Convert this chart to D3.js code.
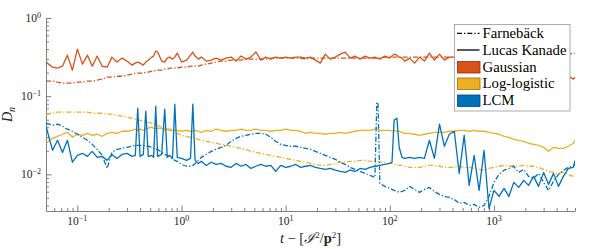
<!DOCTYPE html>
<html>
<head>
<meta charset="utf-8">
<script src="https://cdn.jsdelivr.net/npm/d3@7"></script>
<style>
body { margin: 0; background: #fff; }
</style>
</head>
<body>
<svg id="chart" width="598" height="249" font-family="'Liberation Serif', 'DejaVu Serif', serif"></svg>
<script>
// time axis, t - [I^2/p^2]
var tValues = [
  0.05, 0.0578, 0.0645, 0.072, 0.0803, 0.0896, 0.1, 0.112, 0.125, 0.139,
  0.155, 0.173, 0.193, 0.215, 0.24, 0.268, 0.3, 0.334, 0.36, 0.38,
  0.40, 0.43, 0.454, 0.48, 0.518, 0.54, 0.566, 0.59, 0.645, 0.69,
  0.73, 0.77, 0.82, 0.862, 0.91, 1, 1.12, 1.22, 1.284, 1.35,
  1.45, 1.55, 1.73, 1.93, 2.15, 2.4, 2.68, 3, 3.34, 3.73,
  4.16, 4.64, 5.18, 5.78, 6.45, 7.2, 8.03, 8.96, 10, 11.2,
  12.5, 13.9, 15.5, 17.3, 19.3, 21.5, 24, 26.8, 30, 33.4,
  37.3, 41.6, 46.4, 51.8, 57.8, 64.5, 72, 75, 77, 80.3,
  89.6, 100, 105, 110, 117, 123, 131, 139, 155, 173,
  193, 215, 240, 268, 300, 334, 373, 416, 464, 518,
  578, 645, 720, 803, 896, 1000, 1120, 1250, 1390, 1550,
  1730, 1930, 2150, 2400, 2680, 3000, 3340, 3730, 4160, 4640,
  5180, 5780, 6000
];

// Gaussian
var gaussFarneback = [
  0.156, 0.156, 0.151, 0.147, 0.147, 0.147, 0.151, 0.151, 0.156, 0.156,
  0.160, 0.165, 0.175, 0.175, 0.180, 0.180, 0.186, 0.191, 0.197, 0.197,
  0.197, 0.197, 0.203, 0.203, 0.209, 0.209, 0.215, 0.215, 0.215, 0.222,
  0.222, 0.229, 0.229, 0.229, 0.229, 0.235, 0.235, 0.242, 0.242, 0.242,
  0.242, 0.250, 0.257, 0.265, 0.273, 0.281, 0.281, 0.289, 0.289, 0.289,
  0.298, 0.298, 0.298, 0.298, 0.298, 0.307, 0.307, 0.307, 0.307, 0.307,
  0.307, 0.307, 0.298, 0.307, 0.307, 0.307, 0.307, 0.307, 0.307, 0.307,
  0.307, 0.307, 0.307, 0.307, 0.307, 0.307, 0.307, 0.307, 0.307, 0.307,
  0.316, 0.316, 0.316, 0.316, 0.316, 0.316, 0.316, 0.316, 0.316, 0.316,
  0.316, 0.316, 0.316, 0.316, 0.316, 0.316, 0.316, 0.316, 0.316, 0.316,
  0.316, 0.316, 0.316, 0.316, 0.316, 0.316, 0.316, 0.316, 0.316, 0.316,
  0.326, 0.326, 0.326, 0.326, 0.326, 0.335, 0.335, 0.335, 0.335, 0.345,
  0.345, 0.356, 0.356
];
var gaussLucasKanade = [
  0.273, 0.235, 0.229, 0.242, 0.335, 0.215, 0.400, 0.257, 0.335, 0.242,
  0.326, 0.242, 0.235, 0.316, 0.273, 0.307, 0.281, 0.250, 0.265, 0.273,
  0.265, 0.250, 0.273, 0.289, 0.316, 0.326, 0.378, 0.367, 0.281, 0.273,
  0.307, 0.316, 0.298, 0.316, 0.356, 0.273, 0.289, 0.335, 0.367, 0.326,
  0.298, 0.316, 0.281, 0.289, 0.307, 0.289, 0.307, 0.316, 0.281, 0.326,
  0.298, 0.316, 0.367, 0.289, 0.316, 0.298, 0.316, 0.307, 0.316, 0.307,
  0.316, 0.316, 0.307, 0.316, 0.289, 0.265, 0.345, 0.298, 0.316, 0.345,
  0.367, 0.307, 0.326, 0.298, 0.326, 0.307, 0.316, 0.307, 0.307, 0.298,
  0.326, 0.307, 0.326, 0.345, 0.335, 0.316, 0.307, 0.281, 0.307, 0.265,
  0.316, 0.281, 0.356, 0.289, 0.345, 0.289, 0.316, 0.316, 0.307, 0.326,
  0.307, 0.316, 0.298, 0.326, 0.307, 0.316, 0.298, 0.316, 0.307, 0.289,
  0.307, 0.273, 0.257, 0.242, 0.229, 0.215, 0.203, 0.191, 0.186, 0.175,
  0.180, 0.165, 0.175
];

// Log-logistic
var logLogFarneback = [
  0.0588, 0.0605, 0.0624, 0.0624, 0.0624, 0.0624, 0.0624, 0.0624, 0.0624, 0.0605,
  0.0605, 0.0605, 0.0588, 0.0588, 0.0571, 0.0554, 0.0538, 0.0522, 0.0507, 0.0507,
  0.0492, 0.0478, 0.0478, 0.0464, 0.0451, 0.0438, 0.0425, 0.0425, 0.0401, 0.0389,
  0.0378, 0.0366, 0.0356, 0.0345, 0.0335, 0.0316, 0.0307, 0.0298, 0.0298, 0.0289,
  0.0281, 0.0273, 0.0265, 0.0257, 0.0250, 0.0242, 0.0235, 0.0229, 0.0222, 0.0215,
  0.0209, 0.0197, 0.0191, 0.0186, 0.0180, 0.0175, 0.0170, 0.0165, 0.0160, 0.0156,
  0.0151, 0.0147, 0.0143, 0.0138, 0.0134, 0.0130, 0.0130, 0.0134, 0.0138, 0.0143,
  0.0143, 0.0147, 0.0147, 0.0151, 0.0151, 0.0147, 0.0147, 0.0147, 0.0147, 0.0143,
  0.0143, 0.0138, 0.0138, 0.0134, 0.0134, 0.0130, 0.0130, 0.0127, 0.0123, 0.0123,
  0.0123, 0.0127, 0.0130, 0.0130, 0.0127, 0.0123, 0.0123, 0.0123, 0.0127, 0.0123,
  0.0123, 0.0119, 0.0116, 0.0113, 0.0119, 0.0123, 0.0127, 0.0130, 0.0127, 0.0130,
  0.0127, 0.0130, 0.0127, 0.0127, 0.0123, 0.0116, 0.0109, 0.0106, 0.0103, 0.0106,
  0.0100, 0.00943, 0.00916
];
var logLogLucasKanade = [
  0.0250, 0.0289, 0.0307, 0.0326, 0.0345, 0.0298, 0.0326, 0.0316, 0.0335, 0.0316,
  0.0326, 0.0307, 0.0335, 0.0345, 0.0335, 0.0356, 0.0356, 0.0366, 0.0378, 0.0366,
  0.0378, 0.0366, 0.0378, 0.0389, 0.0401, 0.0389, 0.0378, 0.0389, 0.0389, 0.0366,
  0.0378, 0.0378, 0.0366, 0.0366, 0.0366, 0.0356, 0.0366, 0.0356, 0.0356, 0.0366,
  0.0356, 0.0345, 0.0366, 0.0356, 0.0378, 0.0366, 0.0356, 0.0366, 0.0366, 0.0378,
  0.0366, 0.0366, 0.0378, 0.0366, 0.0366, 0.0356, 0.0366, 0.0366, 0.0378, 0.0366,
  0.0366, 0.0356, 0.0335, 0.0345, 0.0335, 0.0335, 0.0326, 0.0335, 0.0335, 0.0345,
  0.0335, 0.0345, 0.0356, 0.0366, 0.0366, 0.0366, 0.0378, 0.0378, 0.0378, 0.0366,
  0.0366, 0.0366, 0.0356, 0.0366, 0.0356, 0.0356, 0.0345, 0.0335, 0.0335, 0.0326,
  0.0316, 0.0326, 0.0335, 0.0345, 0.0345, 0.0345, 0.0356, 0.0356, 0.0366, 0.0366,
  0.0356, 0.0366, 0.0356, 0.0356, 0.0345, 0.0335, 0.0326, 0.0307, 0.0298, 0.0281,
  0.0273, 0.0265, 0.0250, 0.0242, 0.0235, 0.0222, 0.0197, 0.0222, 0.0215, 0.0215,
  0.0229, 0.0250, 0.0273
];

// LCM
var lcmFarneback = [
  0.0451, 0.0425, 0.0438, 0.0413, 0.0378, 0.0356, 0.0326, 0.0298, 0.0273, 0.0242,
  0.0209, 0.0175, 0.0119, 0.0191, 0.0209, 0.0215, 0.0222, 0.0229, 0.0235, 0.0235,
  0.0235, 0.0235, 0.0229, 0.0229, 0.0222, 0.0215, 0.0209, 0.0209, 0.0191, 0.0180,
  0.0175, 0.0165, 0.0160, 0.0151, 0.0147, 0.0134, 0.0127, 0.0127, 0.0130, 0.0138,
  0.0151, 0.0165, 0.0180, 0.0197, 0.0209, 0.0222, 0.0235, 0.0265, 0.0289, 0.0307,
  0.0316, 0.0326, 0.0335, 0.0335, 0.0326, 0.0298, 0.0265, 0.0242, 0.0235, 0.0229,
  0.0229, 0.0222, 0.0215, 0.0209, 0.0197, 0.0186, 0.0175, 0.0165, 0.0156, 0.0143,
  0.0134, 0.0123, 0.0116, 0.0109, 0.0103, 0.00971, 0.00916, 0.0838, 0.0814, 0.00767,
  0.00702, 0.00661, 0.00642, 0.00624, 0.00605, 0.00588, 0.00605, 0.00624, 0.00702, 0.00642,
  0.00588, 0.00642, 0.00681, 0.00605, 0.00554, 0.00522, 0.00507, 0.00478, 0.00425, 0.00438,
  0.00401, 0.00413, 0.00378, 0.00401, 0.00522, 0.00790, 0.0100, 0.0113, 0.0119, 0.0127,
  0.0106, 0.0116, 0.00943, 0.00889, 0.0103, 0.00790, 0.00624, 0.00814, 0.0100, 0.0113,
  0.0123, 0.0127, 0.0134
];
var lcmLucasKanade = [
  0.0413, 0.0203, 0.0273, 0.0191, 0.0273, 0.0143, 0.0175, 0.0186, 0.0170, 0.0197,
  0.0165, 0.0170, 0.0151, 0.0180, 0.0160, 0.0180, 0.0186, 0.0170, 0.0175, 0.0702,
  0.0170, 0.0180, 0.0642, 0.0170, 0.0175, 0.0165, 0.0745, 0.0170, 0.0180, 0.0681,
  0.0165, 0.0175, 0.0160, 0.0790, 0.0165, 0.0160, 0.0151, 0.0160, 0.0790, 0.0151,
  0.0138, 0.0147, 0.0130, 0.0143, 0.0134, 0.0138, 0.0127, 0.0123, 0.0138, 0.0127,
  0.0134, 0.0119, 0.0127, 0.0134, 0.0127, 0.0130, 0.0109, 0.0130, 0.0123, 0.0127,
  0.0134, 0.0123, 0.0127, 0.0130, 0.0123, 0.0119, 0.0116, 0.0119, 0.0113, 0.0109,
  0.0106, 0.0113, 0.0109, 0.0119, 0.0116, 0.0123, 0.0127, 0.0127, 0.0130, 0.0130,
  0.0134, 0.0138, 0.0143, 0.0492, 0.0522, 0.0222, 0.0165, 0.0160, 0.0165, 0.0160,
  0.0165, 0.0160, 0.0273, 0.0160, 0.0438, 0.0229, 0.0326, 0.0356, 0.0103, 0.0316,
  0.00723, 0.0175, 0.00624, 0.0203, 0.00366, 0.00624, 0.00522, 0.00661, 0.00522, 0.00790,
  0.00681, 0.00838, 0.00723, 0.00943, 0.00702, 0.0106, 0.00745, 0.0103, 0.00702, 0.00943,
  0.0119, 0.0123, 0.0151
];

var modelNames = ["Gaussian", "Log-logistic", "LCM"];
var modelColors = ["#D95319", "#EDB120", "#0072BD"];
var methodNames = ["Farnebäck", "Lucas Kanade"];

var xMajorTicks = [0.1, 1, 10, 100, 1000];
var xTickExponents = ["−1", "0", "1", "2", "3"];
var yMajorTicks = [1, 0.1, 0.01];
var yTickExponents = ["0", "−1", "−2"];

var W = 598, H = 249;
var margin = {left: 46, right: 23, top: 18, bottom: 38};
var dashDot = "5,2,1.3,2";
var textColor = "#262626";

var svg = d3.select("#chart");

var x = d3.scaleLog().domain([0.05, 6000]).range([margin.left, W - margin.right]);
var y = d3.scaleLog().domain([0.0034, 1]).range([H - margin.bottom, margin.top]);

// minor ticks, 2..9 in every decade
function minorTicks(scale) {
    var dom = scale.domain(), out = [];
    for (var e = -4; e <= 4; e++) {
        for (var m = 2; m <= 9; m++) {
            var v = m * Math.pow(10, e);
            if (v >= dom[0] * 0.999 && v <= dom[1] * 1.001) out.push(v);
        }
    }
    return out;
}

svg.append("clipPath").attr("id", "plotclip")
  .append("rect")
  .attr("x", margin.left).attr("y", margin.top)
  .attr("width", W - margin.left - margin.right)
  .attr("height", H - margin.top - margin.bottom);

// axes
var axisColor = "#808080";
var gx = svg.append("g").attr("transform", "translate(0," + (H - margin.bottom) + ")");
gx.call(d3.axisBottom(x).tickValues(xMajorTicks).tickSize(-5.5).tickSizeOuter(0).tickFormat(""));
gx.append("g").call(d3.axisBottom(x).tickValues(minorTicks(x)).tickSize(-3).tickSizeOuter(0).tickFormat(""))
  .select(".domain").remove();
gx.selectAll("path,line").attr("stroke", axisColor);

var gy = svg.append("g").attr("transform", "translate(" + margin.left + ",0)");
gy.call(d3.axisLeft(y).tickValues(yMajorTicks).tickSize(-5.5).tickSizeOuter(0).tickFormat(""));
gy.append("g").call(d3.axisLeft(y).tickValues(minorTicks(y)).tickSize(-3).tickSizeOuter(0).tickFormat(""))
  .select(".domain").remove();
gy.selectAll("path,line").attr("stroke", axisColor);

// tick labels 10^k
xMajorTicks.forEach(function(v, i) {
    var t = svg.append("text")
      .attr("x", x(v)).attr("y", H - margin.bottom + 14)
      .attr("text-anchor", "middle").attr("font-size", 11.5).attr("fill", textColor);
    t.append("tspan").text("10");
    t.append("tspan").attr("dy", -4.5).attr("font-size", 8).text(xTickExponents[i]);
});
yMajorTicks.forEach(function(v, i) {
    var t = svg.append("text")
      .attr("x", margin.left - 5).attr("y", y(v) + 4)
      .attr("text-anchor", "end").attr("font-size", 11.5).attr("fill", textColor);
    t.append("tspan").text("10");
    t.append("tspan").attr("dy", -4.5).attr("font-size", 8).text(yTickExponents[i]);
});

// axis titles
var yl = svg.append("text")
  .attr("transform", "translate(12," + ((margin.top + H - margin.bottom) / 2) + ") rotate(-90)")
  .attr("text-anchor", "middle").attr("font-size", 14).attr("fill", textColor);
yl.append("tspan").attr("font-style", "italic").text("D");
yl.append("tspan").attr("font-style", "italic").attr("font-size", 10).attr("dy", 3).text("n");

var xl = svg.append("text")
  .attr("x", (margin.left + W - margin.right) / 2).attr("y", H - 6)
  .attr("text-anchor", "middle").attr("font-size", 14.5).attr("fill", textColor);
xl.append("tspan").attr("font-style", "italic").text("t");
xl.append("tspan").text(" − [");
xl.append("tspan").attr("font-style", "italic").text("ℐ");
xl.append("tspan").attr("dy", -5).attr("font-size", 9).text("2");
xl.append("tspan").attr("dy", 5).text("/");
xl.append("tspan").attr("font-weight", "bold").text("p");
xl.append("tspan").attr("dy", -5).attr("font-size", 9).text("2");
xl.append("tspan").attr("dy", 5).text("]");

// curves
var series = [
    {values: gaussFarneback, model: 0, dashed: true},
    {values: gaussLucasKanade, model: 0, dashed: false},
    {values: logLogFarneback, model: 1, dashed: true},
    {values: logLogLucasKanade, model: 1, dashed: false},
    {values: lcmFarneback, model: 2, dashed: true},
    {values: lcmLucasKanade, model: 2, dashed: false}
];

var line = d3.line()
    .x(function(d, i) { return x(tValues[i]); })
    .y(function(d) { return y(d); });

var plot = svg.append("g").attr("clip-path", "url(#plotclip)");
plot.selectAll("path.curve")
  .data(series)
  .enter()
  .append("path")
  .attr("class", "curve")
  .attr("d", function(d) { return line(d.values); })
  .attr("fill", "none")
  .attr("stroke", function(d) { return modelColors[d.model]; })
  .attr("stroke-width", 1.3)
  .attr("stroke-linejoin", "round")
  .attr("stroke-dasharray", function(d) { return d.dashed ? dashDot : null; });

// legend
var lg = svg.append("g");
lg.append("rect")
  .attr("x", 454.5).attr("y", 24.5).attr("width", 115.5).attr("height", 86.5)
  .attr("fill", "#fff").attr("stroke", "#9a9a9a").attr("stroke-width", 0.8);

var rowY = [33.3, 50, 67, 83.5, 100.5];
methodNames.forEach(function(name, i) {
    lg.append("line")
      .attr("x1", 457).attr("x2", 479.5)
      .attr("y1", rowY[i]).attr("y2", rowY[i])
      .attr("stroke", "#000").attr("stroke-width", 1.3)
      .attr("stroke-dasharray", i === 0 ? dashDot : null);
});
modelNames.forEach(function(name, i) {
    lg.append("rect")
      .attr("x", 457.5).attr("y", rowY[i + 2] - 5.5)
      .attr("width", 22.5).attr("height", 11.5)
      .attr("fill", modelColors[i])
      .attr("stroke", d3.color(modelColors[i]).darker(1.3))
      .attr("stroke-width", 0.8);
});
var legendLabels = methodNames.concat(modelNames);
var legendText = lg.selectAll("text.lab")
  .data(legendLabels)
  .enter()
  .append("text")
  .attr("class", "lab")
  .attr("x", 482.5)
  .attr("y", function(d, i) { return rowY[i] + 4.5; })
  .attr("font-size", 14)
  .attr("fill", "#000")
  .text(function(d) { return d; });

// fit "Lucas Kanade" to the width seen in the figure
var w = legendText.filter(function(d, i) { return i === 1; }).node().getComputedTextLength();
legendText.attr("font-size", Math.min(16, 14 * 84 / w));
</script>
</body>
</html>
